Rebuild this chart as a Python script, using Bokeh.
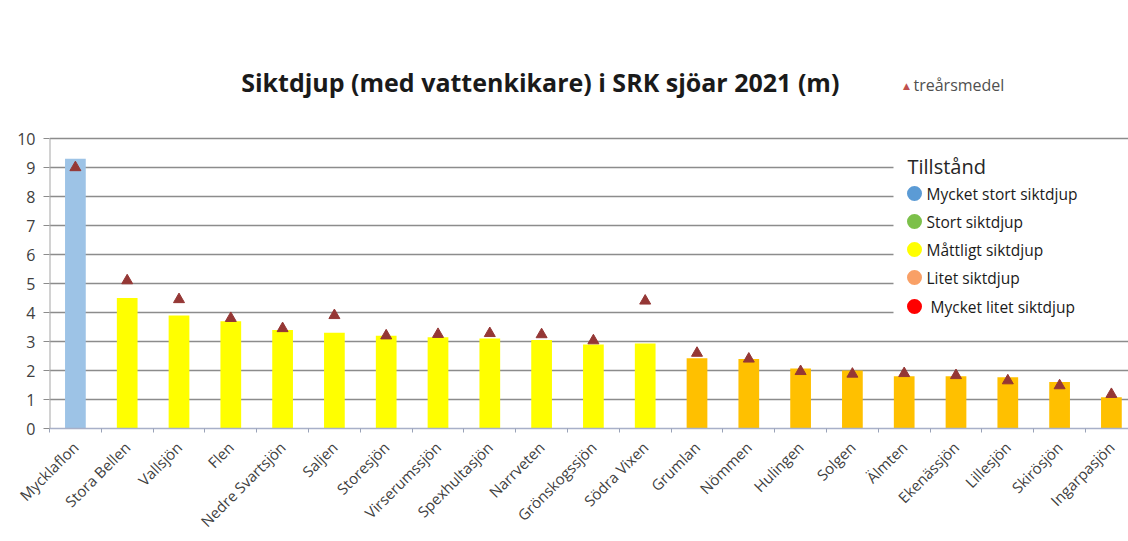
import math
from bokeh.plotting import figure
from bokeh.models import Range1d, FixedTicker, Label, BoxAnnotation, ColumnDataSource
from bokeh.embed import file_html
from bokeh.resources import INLINE

lakes = ["Mycklaflon", "Stora Bellen", "Vallsjön", "Flen", "Nedre Svartsjön", "Saljen",
         "Storesjön", "Virserumssjön", "Spexhultasjön", "Narrveten", "Grönskogssjön",
         "Södra Vixen", "Grumlan", "Nömmen", "Hulingen", "Solgen", "Älmten",
         "Ekenässjön", "Lillesjön", "Skirösjön", "Ingarpasjön"]
depth_2021 = [9.3, 4.5, 3.9, 3.7, 3.4, 3.3, 3.2, 3.15, 3.1, 3.05, 2.9, 2.93, 2.42, 2.4,
              2.07, 2.0, 1.8, 1.8, 1.77, 1.6, 1.08]
three_year_mean = [9.0, 5.1, 4.45, 3.8, 3.45, 3.9, 3.2, 3.25, 3.28, 3.24, 3.03, 4.4, 2.6,
                   2.4, 1.97, 1.88, 1.9, 1.83, 1.65, 1.48, 1.18]
status = ["Mycket stort siktdjup"] + ["Måttligt siktdjup"] * 11 + ["Litet siktdjup"] * 9
legend_labels = ["Mycket stort siktdjup", "Stort siktdjup", "Måttligt siktdjup",
                 "Litet siktdjup", "Mycket litet siktdjup"]
legend_colors = ["#5B9BD5", "#7CC04A", "#FFFF00", "#F9A066", "#FF0000"]
bar_colors = {"Mycket stort siktdjup": "#9DC3E6", "Måttligt siktdjup": "#FFFF00",
              "Litet siktdjup": "#FFC000"}
y_ticks = list(range(0, 11))
y_max = 10

n = len(lakes)
xs = list(range(n))

W, H = 1128, 541
left_px, right_px = 49, 1128
axis_top_px, bottom_px = 138, 428          # pixel rows of y=10 and y=0
unit = 51.8
x0 = -0.5
x1 = x0 + (right_px - left_px) / unit
px_per_y = (bottom_px - axis_top_px) / y_max
y_top = bottom_px / px_per_y                # frame reaches the top of the canvas

p = figure(width=W, height=H, output_backend="svg", toolbar_location=None,
           x_range=Range1d(x0, x1), y_range=Range1d(0, y_top),
           min_border_left=left_px, min_border_right=W - right_px,
           min_border_top=0, min_border_bottom=H - bottom_px)
p.outline_line_color = None
p.background_fill_color = "white"
p.border_fill_color = "white"

src = ColumnDataSource(dict(x=xs, top=depth_2021, mean=three_year_mean,
                            color=[bar_colors[s] for s in status]))
p.vbar(x="x", top="top", width=0.4, bottom=0, source=src, fill_color="color",
       line_color=None)
p.scatter(x="x", y="mean", source=src, marker="triangle", size=11,
          fill_color="#953735", line_color="#953735")

# axes
p.xgrid.visible = False
p.ygrid.grid_line_color = "#8c8c8c"
p.ygrid.grid_line_width = 1.5
p.ygrid.ticker = FixedTicker(ticks=y_ticks)

p.yaxis.ticker = FixedTicker(ticks=y_ticks)
p.yaxis.axis_line_color = None
p.yaxis.major_tick_line_color = "#8c8c8c"
p.yaxis.major_tick_out = 6
p.yaxis.major_tick_in = 0
p.yaxis.minor_tick_line_color = None
p.yaxis.major_label_text_font = "Open Sans"
p.yaxis.major_label_text_font_size = "16px"
p.yaxis.major_label_text_color = "#404040"
p.yaxis.major_label_standoff = 8
# visible y axis line only from 0 to 10
p.segment(x0=[x0], y0=[0], x1=[x0], y1=[y_max], line_color="#a6a6a6", line_width=2)

p.xaxis.ticker = FixedTicker(ticks=xs, minor_ticks=[i + 0.5 for i in range(-1, n)])
p.xaxis.major_label_overrides = {i: name for i, name in enumerate(lakes)}
p.xaxis.major_label_orientation = math.pi / 4
p.xaxis.major_tick_line_color = None
p.xaxis.minor_tick_line_color = "#9aa3b8"
p.xaxis.minor_tick_out = 4
p.xaxis.minor_tick_in = 0
p.xaxis.axis_line_color = "#a8b0c8"
p.xaxis.axis_line_width = 1.5
p.xaxis.major_label_text_font = "Open Sans"
p.xaxis.major_label_text_font_size = "15px"
p.xaxis.major_label_text_color = "#404040"
p.xaxis.major_label_standoff = 10

# screen helpers (screen units are relative to the frame's bottom-left corner)
def sx(px):
    return px - left_px

def sy(py):
    return bottom_px - py

def lab(x, y, text, **kw):
    p.add_layout(Label(x=sx(x), y=sy(y), x_units="screen", y_units="screen", text=text,
                       text_baseline="middle", **kw))

# title
lab(543, 81, "Siktdjup (med vattenkikare) i SRK sjöar  2021 (m)", text_font="Open Sans",
    text_font_style="bold", text_font_size="25px", text_color="#1a1a1a",
    text_align="center")
lab(906, 85, "▲", text_font="DejaVu Sans", text_font_size="9px", text_color="#c0504d",
    text_align="center")
lab(913, 84, "treårsmedel", text_font="Open Sans", text_font_size="16px",
    text_color="#505050", text_align="left")

# legend box
p.add_layout(BoxAnnotation(left=sx(893), right=sx(1128), top=sy(148), bottom=sy(336),
                           left_units="screen", right_units="screen",
                           top_units="screen", bottom_units="screen",
                           fill_color="white", fill_alpha=1.0, line_color=None))
lab(907, 166, "Tillstånd", text_font="Open Sans", text_font_size="20px",
    text_color="#262626", text_align="left")

def px2x(px):
    return x0 + (px - left_px) / unit

def px2y(py):
    return (bottom_px - py) / px_per_y

leg_y_px = [193, 221, 249, 277, 306]
leg_x_px = [926, 926, 926, 926, 930]
circ = p.scatter(x=[px2x(914)] * 5, y=[px2y(v) for v in leg_y_px], size=15,
                 fill_color=legend_colors, line_color=None)
circ.level = "overlay"
for text, xpx, ypx in zip(legend_labels, leg_x_px, leg_y_px):
    lab(xpx, ypx, text, text_font="Open Sans", text_font_size="15.5px",
        text_color="#1a1a1a", text_align="left")

open("out.html", "w").write(file_html(p, INLINE))
